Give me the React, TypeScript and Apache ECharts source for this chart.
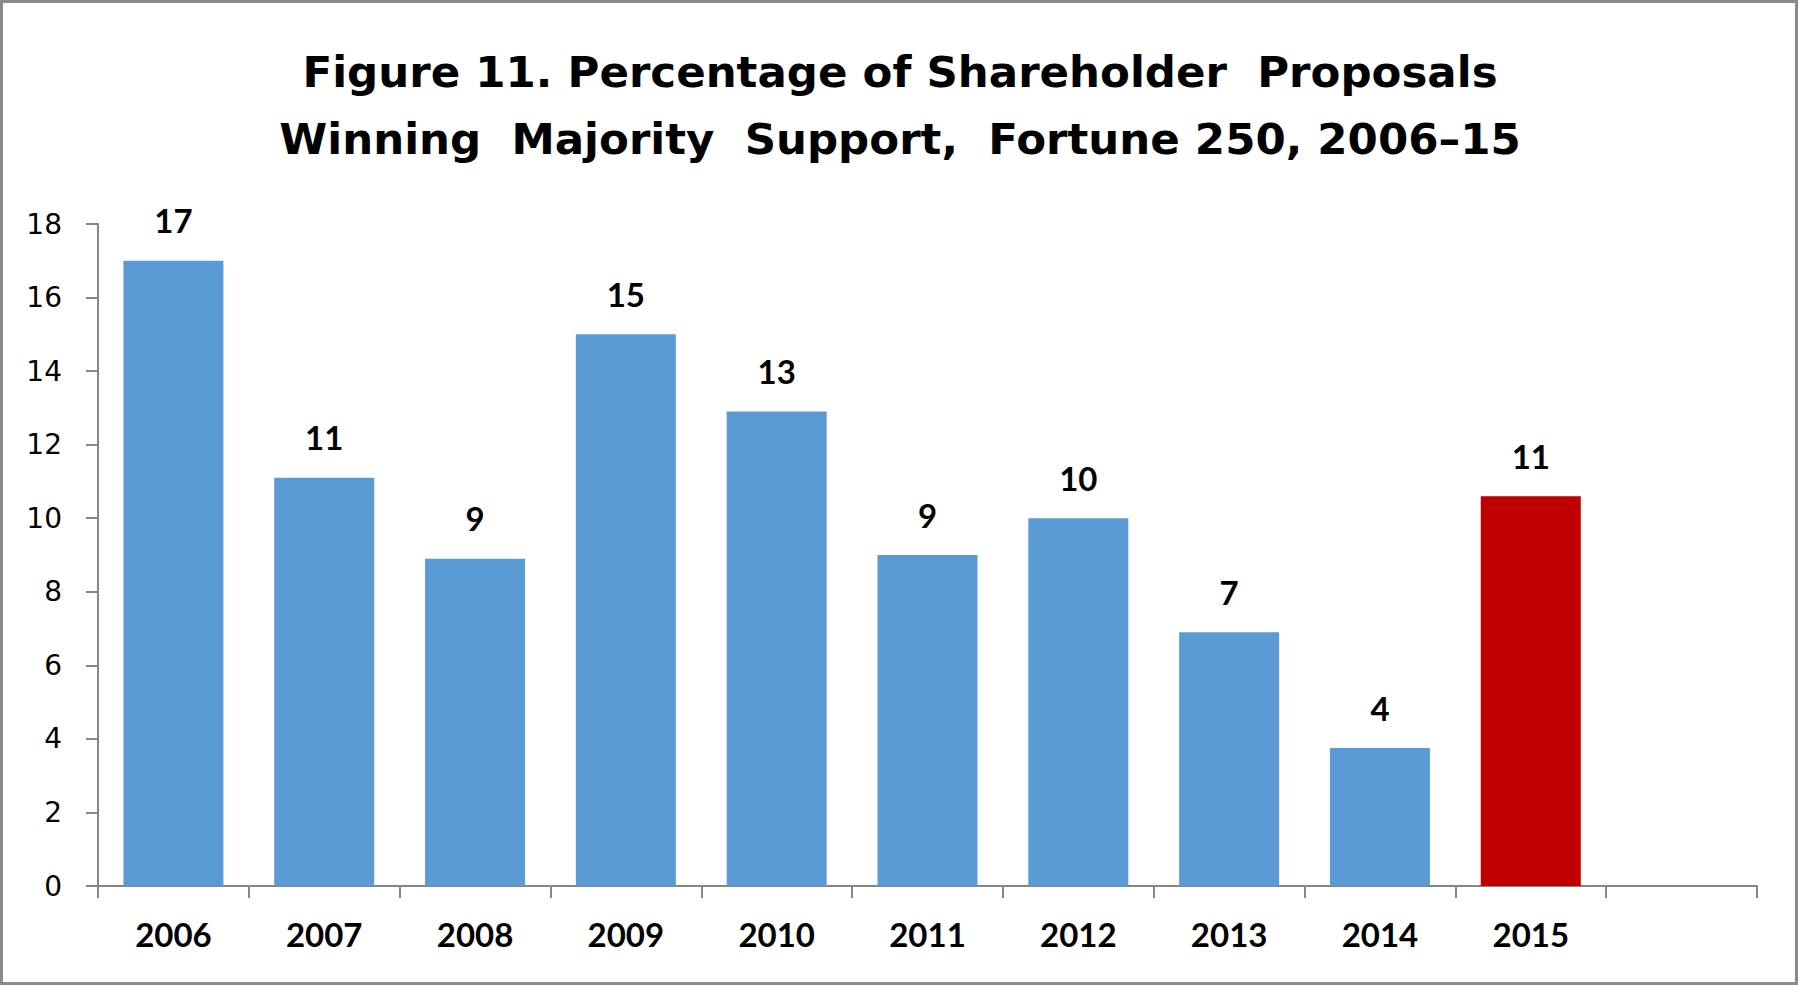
import React, { useEffect, useRef } from "react";
import * as echarts from "echarts";

const titleLines = [
  "Figure 11. Percentage of Shareholder  Proposals",
  "Winning  Majority  Support,  Fortune 250, 2006\u201315",
];
const years = ["2006", "2007", "2008", "2009", "2010", "2011", "2012", "2013", "2014", "2015"];
const extraCategory = [""];
const values = [17.0, 11.1, 8.9, 15.0, 12.9, 9.0, 10.0, 6.9, 3.75, 10.6];
const highlightYear = "2015";
const yTicks = { min: 0, max: 18, interval: 2 };

const FONT = "Lato, 'Open Sans', 'DejaVu Sans', sans-serif";
const TITLE_FONT = "'DejaVu Sans', Lato, sans-serif";
const YFONT = "'DejaVu Sans', Lato, sans-serif";

export default function App() {
  const ref = useRef<HTMLDivElement>(null);
  useEffect(() => {
    document.body.style.margin = "0";
    const chart = echarts.init(ref.current!, null, { renderer: "svg" });
    const categories = [...years, ...extraCategory];
    chart.setOption({
      animation: false,
      backgroundColor: "#ffffff",
      title: {
        text: titleLines.join("\n"),
        left: "center",
        top: 33,
        textStyle: {
          fontFamily: TITLE_FONT,
          fontWeight: "bold",
          fontSize: 43.5,
          lineHeight: 67,
          color: "#000000",
        },
      },
      grid: { left: 98, right: 43, top: 224, bottom: 100, containLabel: false },
      xAxis: {
        type: "category",
        data: categories,
        axisLine: { lineStyle: { color: "#868686", width: 2 } },
        axisTick: { show: true, length: 12, lineStyle: { color: "#868686", width: 2 } },
        axisLabel: {
          margin: 31,
          fontFamily: FONT,
          fontWeight: "bold",
          fontSize: 33,
          color: "#000000",
        },
      },
      yAxis: {
        type: "value",
        min: yTicks.min,
        max: yTicks.max,
        interval: yTicks.interval,
        splitLine: { show: false },
        axisLine: { show: true, lineStyle: { color: "#868686", width: 2 } },
        axisTick: { show: true, length: 12, lineStyle: { color: "#868686", width: 2 } },
        axisLabel: {
          margin: 36,
          fontFamily: YFONT,
          fontSize: 28,
          color: "#000000",
        },
      },
      series: [
        {
          type: "bar",
          barWidth: 100,
          data: values.map((v, i) => ({
            value: v,
            itemStyle: { color: years[i] === highlightYear ? "#C00000" : "#5B9BD5" },
          })),
          label: {
            show: true,
            position: "top",
            distance: 24,
            fontFamily: FONT,
            fontWeight: "bold",
            fontSize: 33,
            color: "#000000",
            formatter: (p: any) => String(Math.round(p.value)),
          },
        },
      ],
      graphic: [
        {
          type: "rect",
          shape: { x: 1.5, y: 1.5, width: 1795, height: 982 },
          style: { fill: "none", stroke: "#8a8a8a", lineWidth: 3 },
          silent: true,
        },
      ],
    });
    return () => chart.dispose();
  }, []);
  return <div ref={ref} style={{ width: 1800, height: 986 }} />;
}
